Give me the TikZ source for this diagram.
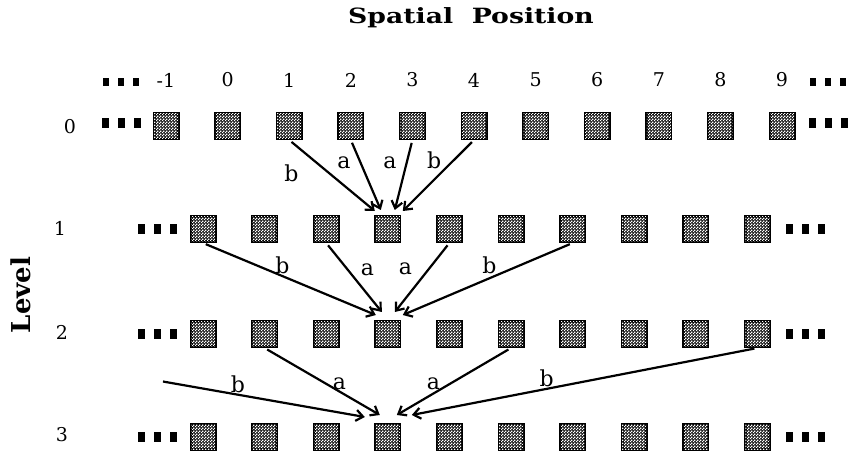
\documentclass[tikz,border=0pt]{standalone}
\usepackage{fontspec}
\setmainfont{DejaVu Serif}
\usetikzlibrary{arrows.meta,patterns}

\pgfdeclarepatternformonly{finecheck}{\pgfqpoint{0pt}{0pt}}{\pgfqpoint{3pt}{3pt}}{\pgfqpoint{3pt}{3pt}}{
  \pgfpathrectangle{\pgfqpoint{0pt}{0pt}}{\pgfqpoint{1.5pt}{1.5pt}}
  \pgfpathrectangle{\pgfqpoint{1.5pt}{1.5pt}}{\pgfqpoint{1.5pt}{1.5pt}}
  \pgfusepath{fill}}

\newcommand{\threebars}[2]{\rule{#1}{#2}\hspace{9pt}\rule{#1}{#2}\hspace{9pt}\rule{#1}{#2}}

\begin{document}
\begin{tikzpicture}[x=1pt, y=-1pt, >={Straight Barb[length=7pt,width=11pt]}]
    \tikzset{
      cell/.style={draw, line width=3pt, fill=black!85, postaction={pattern=finecheck, pattern color=white},
        minimum width=24pt, minimum height=25pt, inner sep=0pt},
      num/.style={font=\fontsize{19}{21}\selectfont},
      lbl/.style={font=\fontsize{22}{24}\selectfont, inner sep=3pt},
      bars/.style={inner sep=0pt},
      arr/.style={->, line width=2.2pt, shorten <=3pt}
    }
    \useasboundingbox (0,0) rectangle (852,454);

    \node[font=\bfseries\fontsize{21}{23}\selectfont] (title) at (471,18) {\scalebox{1.27}[1]{Spatial\ \ Position}};
    \node[rotate=90, font=\bfseries\fontsize{26}{28}\selectfont] (level) at (21,295) {Level};

    % level 0 with the spatial positions above it
    \foreach \c [count=\i from 0] in {-1,0,...,9} {
      \node[cell] (r0p\c) at ({166+61.6*\i},126) {};
      \node[num] (n\c) at ({166+61.6*\i},80) {\c};
    }
    \node[bars] (nl) at (121,82) {\threebars{6pt}{8pt}};
    \node[bars] (nr) at (828,82) {\threebars{6pt}{8pt}};
    \node[bars] (dl0) at (121,123) {\threebars{7pt}{10pt}};
    \node[bars] (dr0) at (828,123) {\threebars{7pt}{10pt}};

    % levels 1 to 3
    \foreach \r/\y in {1/229,2/334,3/437} {
      \foreach \k in {0,...,9}
        \node[cell] (r\r-\k) at ({203+61.6*\k},\y) {};
      \node[bars] (dl\r) at (157,\y) {\threebars{7pt}{10pt}};
      \node[bars] (dr\r) at (805,\y) {\threebars{7pt}{10pt}};
    }
    \foreach \r/\x/\y in {0/70/127,1/60/228,2/62/332,3/62/435}
      \node[num] (lv\r) at (\x,\y) {\r};

    % 0 -> 1
    \draw[arr] (r0p1.south) -- node[lbl, pos=.47, left=27pt] (b01) {b} ([xshift=-13pt,yshift=4pt]r1-3.north);
    \draw[arr] (r0p2.south) -- node[lbl, pos=.33, left=6pt] (a01) {a} ([xshift=-7pt,yshift=5pt]r1-3.north);
    \draw[arr] (r0p3.south) -- node[lbl, pos=.33, left=6pt] (a02) {a} ([xshift=7pt,yshift=5pt]r1-3.north);
    \draw[arr] (r0p4.south) -- node[lbl, pos=.29, left=8pt] (b02) {b} ([xshift=15pt,yshift=4pt]r1-3.north);

    % 1 -> 2
    \draw[arr] (r1-0.south) -- node[lbl, pos=.46, above=-2pt] (b11) {b} ([xshift=-12pt,yshift=5pt]r2-3.north);
    \draw[arr] (r1-2.south) -- node[lbl, pos=.39, right=9pt] (a11) {a} ([xshift=-6pt,yshift=8pt]r2-3.north);
    \draw[arr] (r1-4.south) -- node[lbl, pos=.37, left=13pt] (a12) {a} ([xshift=7pt,yshift=8pt]r2-3.north);
    \draw[arr] (r1-6.south) -- node[lbl, pos=.49, above=0pt] (b12) {b} ([xshift=15pt,yshift=5pt]r2-3.north);

    % 2 -> 3
    \coordinate (far) at (160,381);
    \draw[arr] (far) -- node[lbl, pos=.38, above=-2pt] (b21) {b} ([xshift=-23pt,yshift=6pt]r3-3.north);
    \draw[arr] (r2-1.south) -- node[lbl, pos=.65, above=-2pt] (a21) {a} ([xshift=-8pt,yshift=8pt]r3-3.north);
    \draw[arr] (r2-5.south) -- node[lbl, pos=.68, above=0pt] (a22) {a} ([xshift=9pt,yshift=8pt]r3-3.north);
    \draw[arr] (r2-9.south) -- node[lbl, pos=.61, above=-2pt] (b22) {b} ([xshift=24pt,yshift=8pt]r3-3.north);
\end{tikzpicture}
\end{document}
